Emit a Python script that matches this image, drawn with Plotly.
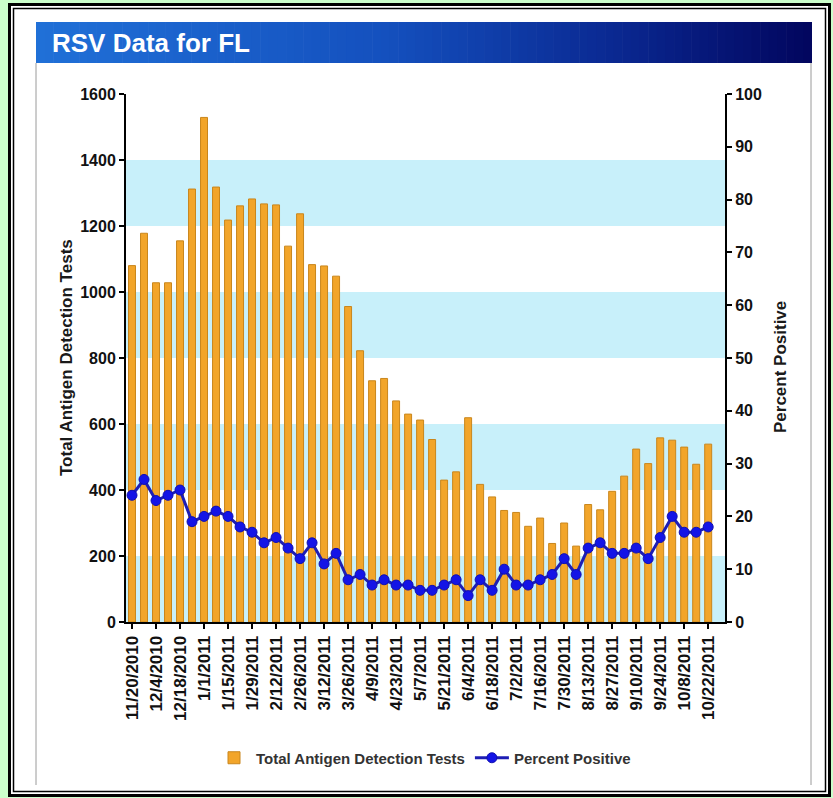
import plotly.graph_objects as go

# ---------------- data ----------------
weeks = [
    "11/20/2010", "11/27/2010", "12/4/2010", "12/11/2010", "12/18/2010", "12/25/2010",
    "1/1/2011", "1/8/2011", "1/15/2011", "1/22/2011", "1/29/2011", "2/5/2011",
    "2/12/2011", "2/19/2011", "2/26/2011", "3/5/2011", "3/12/2011", "3/19/2011",
    "3/26/2011", "4/2/2011", "4/9/2011", "4/16/2011", "4/23/2011", "4/30/2011",
    "5/7/2011", "5/14/2011", "5/21/2011", "5/28/2011", "6/4/2011", "6/11/2011",
    "6/18/2011", "6/25/2011", "7/2/2011", "7/9/2011", "7/16/2011", "7/23/2011",
    "7/30/2011", "8/6/2011", "8/13/2011", "8/20/2011", "8/27/2011", "9/3/2011",
    "9/10/2011", "9/17/2011", "9/24/2011", "10/1/2011", "10/8/2011", "10/15/2011",
    "10/22/2011",
]
total_tests = [
    1080, 1178, 1028, 1028, 1155, 1312, 1529, 1318, 1218, 1261,
    1282, 1267, 1264, 1139, 1237, 1083, 1079, 1048, 956, 822,
    731, 738, 670, 630, 612, 553, 430, 455, 619, 417,
    379, 338, 332, 290, 315, 238, 300, 230, 356, 340,
    396, 442, 524, 480, 558, 551, 530, 478, 539,
]
percent_positive = [
    24, 27, 23, 24, 25, 19, 20, 21, 20, 18,
    17, 15, 16, 14, 12, 15, 11, 13, 8, 9,
    7, 8, 7, 7, 6, 6, 7, 8, 5, 8,
    6, 10, 7, 7, 8, 9, 12, 9, 14, 15,
    13, 13, 14, 12, 16, 20, 17, 17, 18,
]
tick_labels = [
    "11/20/2010", "12/4/2010", "12/18/2010", "1/1/2011", "1/15/2011", "1/29/2011",
    "2/12/2011", "2/26/2011", "3/12/2011", "3/26/2011", "4/9/2011", "4/23/2011",
    "5/7/2011", "5/21/2011", "6/4/2011", "6/18/2011", "7/2/2011", "7/16/2011",
    "7/30/2011", "8/13/2011", "8/27/2011", "9/10/2011", "9/24/2011", "10/8/2011",
    "10/22/2011",
]
band_ranges = [(0, 200), (400, 600), (800, 1000), (1200, 1400)]

# ---------------- geometry helpers ----------------
WIDTH, HEIGHT = 833, 798
L, R, T, B = 126, 108, 94, 176
PW = WIDTH - L - R
PH = HEIGHT - T - B


def px(x):
    return (x - L) / PW


def py(y):
    return 1 - (y - T) / PH


FONT = "Arial, 'Liberation Sans', Helvetica, sans-serif"

fig = go.Figure()

fig.add_trace(go.Bar(
    x=weeks, y=total_tests, name="<b>Total Antigen Detection Tests</b>",
    marker=dict(color="#F2A52A", line=dict(color="#C9861C", width=1)),
    yaxis="y",
))
fig.add_trace(go.Scatter(
    x=weeks, y=percent_positive, name="<b>Percent Positive</b>", mode="lines+markers",
    line=dict(color="#1E1EB4", width=3),
    marker=dict(color="#1414E6", size=10, line=dict(color="#1010B0", width=1)),
    yaxis="y2",
))

shapes = []
# frame: white card with double black border
shapes.append(dict(type="rect", xref="paper", yref="paper", layer="below",
                   x0=px(9.5), x1=px(829.5), y0=py(795.5), y1=py(4.5),
                   line=dict(color="black", width=3), fillcolor="white"))
shapes.append(dict(type="rect", xref="paper", yref="paper", layer="below",
                   x0=px(13.5), x1=px(825.5), y0=py(791.5), y1=py(8.5),
                   line=dict(color="black", width=1.5), fillcolor="rgba(0,0,0,0)"))
# panel side lines
for xx in (36, 811):
    shapes.append(dict(type="line", xref="paper", yref="paper", layer="below",
                       x0=px(xx), x1=px(xx), y0=py(63), y1=py(785),
                       line=dict(color="#9a9a9a", width=1)))

# banner gradient
stops = [(0.0, (32, 112, 215)), (0.45, (20, 80, 190)), (0.75, (10, 40, 145)), (1.0, (2, 6, 95))]


def grad(t):
    for i in range(len(stops) - 1):
        t0, c0 = stops[i]
        t1, c1 = stops[i + 1]
        if t0 <= t <= t1:
            f = (t - t0) / (t1 - t0)
            return "rgb(%d,%d,%d)" % tuple(round(c0[k] + (c1[k] - c0[k]) * f) for k in range(3))
    return "rgb(%d,%d,%d)" % stops[-1][1]


bx0, bx1, by0, by1 = 36, 812, 22, 63
n = 90
for i in range(n):
    xa = bx0 + (bx1 - bx0) * i / n
    xb = bx0 + (bx1 - bx0) * (i + 1) / n + 0.6
    shapes.append(dict(type="rect", xref="paper", yref="paper", layer="below",
                       x0=px(xa), x1=px(min(xb, bx1)), y0=py(by1), y1=py(by0),
                       line=dict(width=0), fillcolor=grad(i / (n - 1))))

# horizontal bands
for lo, hi in band_ranges:
    shapes.append(dict(type="rect", xref="paper", yref="y", layer="below",
                       x0=0, x1=1, y0=lo, y1=hi,
                       line=dict(width=0), fillcolor="#C8F0FA"))

annotations = [
    dict(text="<b>RSV Data for FL</b>", xref="paper", yref="paper",
         x=px(50), y=py(43), xanchor="left", yanchor="middle", showarrow=False,
         font=dict(family=FONT, size=26, color="white")),
    dict(text="<b>Total Antigen Detection Tests</b>", xref="paper", yref="paper",
         x=px(66), y=py(358), xanchor="center", yanchor="middle", showarrow=False,
         textangle=-90, font=dict(family=FONT, size=17, color="#1a1a1a")),
    dict(text="<b>Percent Positive</b>", xref="paper", yref="paper",
         x=px(780), y=py(367), xanchor="center", yanchor="middle", showarrow=False,
         textangle=-90, font=dict(family=FONT, size=17, color="#1a1a1a")),
]

axis_common = dict(showline=True, linecolor="black", linewidth=2, ticks="outside",
                   ticklen=5, tickwidth=2, tickcolor="black", showgrid=False,
                   zeroline=False)

fig.update_layout(
    width=WIDTH, height=HEIGHT,
    margin=dict(l=L, r=R, t=T, b=B, pad=0),
    paper_bgcolor="#CCFFCC",
    plot_bgcolor="rgba(0,0,0,0)",
    bargap=0.42,
    font=dict(family=FONT, color="#111"),
    xaxis=dict(type="category", range=[-0.5, 49.4], tickmode="array",
               tickvals=tick_labels, ticktext=["<b>%s</b>" % t for t in tick_labels],
               tickangle=-90, tickfont=dict(size=17, color="#111"), **axis_common),
    yaxis=dict(range=[0, 1600], dtick=200, tickfont=dict(size=16, color="#111"),
               tickprefix="<b>", ticksuffix="</b>", **axis_common),
    yaxis2=dict(range=[0, 100], dtick=10, overlaying="y", side="right",
                tickfont=dict(size=16, color="#111"), tickprefix="<b>", ticksuffix="</b>",
                **axis_common),
    legend=dict(orientation="h", x=px(424), xanchor="center", y=py(758), yanchor="middle",
                font=dict(size=15, color="#333", family=FONT), bgcolor="rgba(0,0,0,0)",
                itemwidth=34, tracegroupgap=0),
    shapes=shapes,
    annotations=annotations,
    showlegend=True,
)

fig.write_html(
    "out.html",
    config={"displayModeBar": False},
    post_script="document.body.style.margin='0';document.body.style.padding='0';"
                "document.documentElement.style.overflow='hidden';",
)
